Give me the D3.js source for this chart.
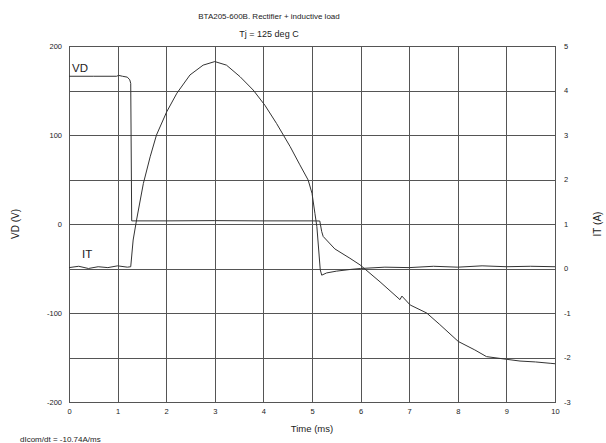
<!DOCTYPE html>
<html>
<head>
<meta charset="utf-8">
<script src="https://cdn.jsdelivr.net/npm/d3@7"></script>
<style>
  body { margin: 0; background: #fff; }
  svg text { font-family: "Liberation Sans", Arial, sans-serif; fill: #222; }
</style>
</head>
<body>
<svg class="graph" width="606" height="443"></svg>
<script>
// VD trace (left axis, volts)
const vdTime = [0, 0.5, 0.98, 1.02, 1.1, 1.2, 1.25, 1.27, 1.29, 2, 3, 4, 5, 5.16,
  5.2, 5.23, 5.47, 5.78, 5.99, 6.4, 6.81, 6.85, 7.02, 7.36, 7.63, 8.01, 8.35, 8.59,
  9.0, 9.28, 9.6, 9.9, 10];
const vdVolts = [166, 166, 166, 167, 166, 165, 162, 158, 3.5, 3.5, 3.8, 3.5, 3.5, 3.4,
  -8.6, -14, -28, -38.5, -46, -65, -85, -81, -91, -100, -113, -132, -141.5, -149,
  -152, -154, -155, -156.5, -157];

// IT trace (right axis, amps)
const itTime = [0, 0.2, 0.4, 0.6, 0.8, 1.0, 1.2, 1.27, 1.32, 1.39, 1.53, 1.67, 1.8,
  2.01, 2.22, 2.49, 2.76, 3.0, 3.24, 3.52, 3.79, 4.03, 4.27, 4.55, 4.75, 4.92, 5.0,
  5.06, 5.1, 5.17, 5.2, 5.3, 5.5, 5.8, 6.0, 6.5, 7, 7.5, 8, 8.5, 9, 9.5, 10];
const itAmps = [0.02, 0.05, 0.0, 0.04, 0.02, 0.06, 0.03, 0.04, 0.64, 1.09, 1.91, 2.51,
  3.0, 3.52, 3.94, 4.35, 4.57, 4.65, 4.57, 4.31, 4.01, 3.67, 3.26, 2.74, 2.33, 1.99,
  1.69, 1.24, 0.94, -0.03, -0.15, -0.1, -0.06, -0.02, 0.0, 0.03, 0.02, 0.05, 0.03,
  0.06, 0.04, 0.05, 0.04];

const timeTicks = [0, 1, 2, 3, 4, 5, 6, 7, 8, 9, 10];
const vdTicks = [200, 100, 0, -100, -200];
const vdGrid = [150, 50, -50, -150];
const itTicks = [5, 4, 3, 2, 1, 0, -1, -2, -3];

const plotLeft = 69, plotRight = 555, plotTop = 46, plotBottom = 402;
const svg = d3.select("svg.graph");

const xScale = d3.scaleLinear().domain([0, 10]).range([plotLeft, plotRight]);
const yScale = d3.scaleLinear().domain([-200, 200]).range([plotBottom, plotTop]);
const y2Scale = d3.scaleLinear().domain([-3, 5]).range([plotBottom, plotTop]);

// grid
const grid = svg.append("g").attr("stroke", "#555").attr("stroke-width", 1);
grid.selectAll("line.v")
  .data(timeTicks.slice(1, -1))
  .enter()
  .append("line")
  .attr("x1", (d) => Math.round(xScale(d)) + 0.5)
  .attr("x2", (d) => Math.round(xScale(d)) + 0.5)
  .attr("y1", plotTop)
  .attr("y2", plotBottom);
grid.selectAll("line.h")
  .data(vdTicks.slice(1, -1).concat(vdGrid))
  .enter()
  .append("line")
  .attr("x1", plotLeft)
  .attr("x2", plotRight)
  .attr("y1", (d) => Math.round(yScale(d)) + 0.5)
  .attr("y2", (d) => Math.round(yScale(d)) + 0.5);
svg.append("rect")
  .attr("x", plotLeft + 0.5)
  .attr("y", plotTop + 0.5)
  .attr("width", plotRight - plotLeft)
  .attr("height", plotBottom - plotTop)
  .attr("fill", "none")
  .attr("stroke", "#555");

// axes (labels only), plain hyphen for negatives
const plain = (d) => String(d);
const xAxis = d3.axisBottom(xScale).tickValues(timeTicks).tickSize(0).tickPadding(7)
  .tickFormat(plain);
const yAxis = d3.axisLeft(yScale).tickValues(vdTicks).tickSize(0).tickPadding(7)
  .tickFormat(plain);
const y2Axis = d3.axisRight(y2Scale).tickValues(itTicks).tickSize(0).tickPadding(9)
  .tickFormat(plain);

svg.append("g").classed("xAxis", true)
  .attr("transform", `translate(0, ${plotBottom})`).call(xAxis);
svg.append("g").classed("yAxis", true)
  .attr("transform", `translate(${plotLeft}, 0)`).call(yAxis);
svg.append("g").classed("y2Axis", true)
  .attr("transform", `translate(${plotRight}, 0)`).call(y2Axis);
svg.selectAll(".domain").remove();
svg.selectAll(".tick text").attr("font-size", 7.5).style("fill", "#222");

// traces
const vdLine = d3.line()
  .x((d, i) => xScale(vdTime[i]))
  .y((d) => yScale(d));
const itLine = d3.line()
  .x((d, i) => xScale(itTime[i]))
  .y((d) => y2Scale(d));

svg.append("path")
  .datum(vdVolts)
  .attr("fill", "none")
  .attr("stroke", "#333")
  .attr("stroke-width", 1)
  .attr("d", vdLine);
svg.append("path")
  .datum(itAmps)
  .attr("fill", "none")
  .attr("stroke", "#333")
  .attr("stroke-width", 1)
  .attr("d", itLine);

// labels
svg.append("text").attr("x", 269).attr("y", 19)
  .attr("text-anchor", "middle").attr("font-size", 8)
  .text("BTA205-600B. Rectifier + inductive load");
svg.append("text").attr("x", 269).attr("y", 37)
  .attr("text-anchor", "middle").attr("font-size", 9)
  .text("Tj = 125 deg C");
svg.append("text").attr("x", 312).attr("y", 432)
  .attr("text-anchor", "middle").attr("font-size", 9.5)
  .text("Time (ms)");
svg.append("text")
  .attr("transform", `translate(19, ${yScale(0)}) rotate(-90)`)
  .attr("text-anchor", "middle").attr("font-size", 10)
  .text("VD (V)");
svg.append("text")
  .attr("transform", `translate(601, ${yScale(0)}) rotate(-90)`)
  .attr("text-anchor", "middle").attr("font-size", 10)
  .text("IT (A)");
svg.append("text").attr("x", 72).attr("y", 72)
  .attr("font-size", 11.5).text("VD");
svg.append("text").attr("x", 82).attr("y", 258)
  .attr("font-size", 11.5).text("IT");
svg.append("text").attr("x", 20).attr("y", 442)
  .attr("font-size", 8).text("dIcom/dt = -10.74A/ms");
</script>
</body>
</html>
